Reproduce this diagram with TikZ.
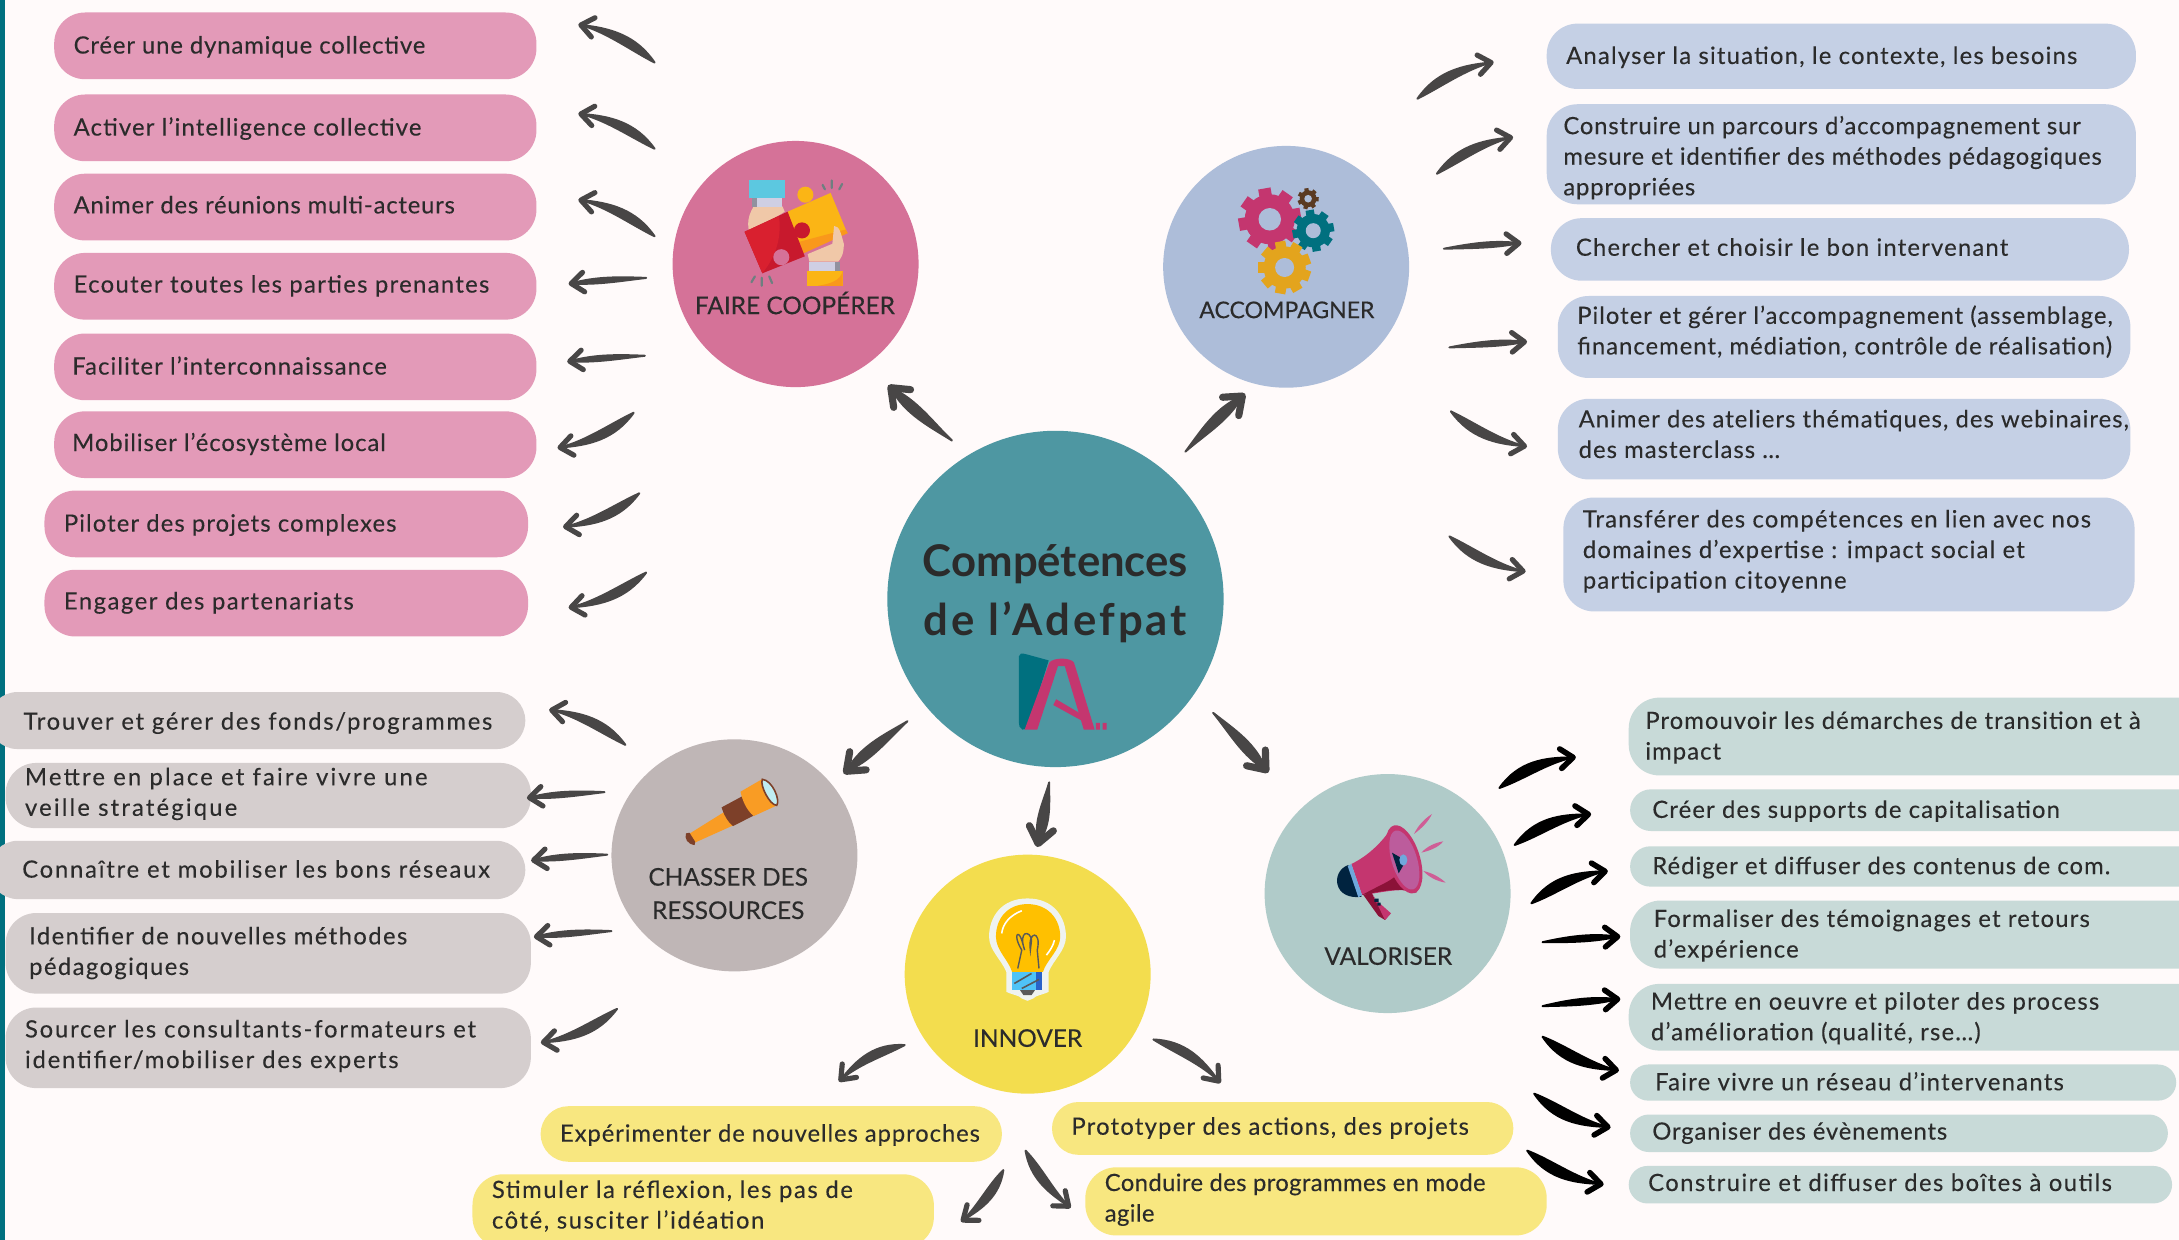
\documentclass[tikz,border=0pt]{standalone}
\usepackage{fontspec}
\setmainfont{Lato}
\usetikzlibrary{calc,shapes.geometric}
\definecolor{bgc}{HTML}{FFFAFA}
\definecolor{stripc}{HTML}{00707F}
\definecolor{centerc}{HTML}{4E97A2}
\definecolor{fairec}{HTML}{D57298}
\definecolor{accc}{HTML}{ADBDD9}
\definecolor{chassc}{HTML}{BFB6B6}
\definecolor{innc}{HTML}{F3DD4E}
\definecolor{valc}{HTML}{B0CBC9}
\definecolor{pinkb}{HTML}{E39AB8}
\definecolor{blueb}{HTML}{C5D0E5}
\definecolor{greyb}{HTML}{D5CECE}
\definecolor{yelb}{HTML}{F8E780}
\definecolor{valb}{HTML}{C8DAD8}
\definecolor{inkc}{HTML}{2B2B2B}
\definecolor{arrc}{HTML}{484646}
\definecolor{magc}{HTML}{C4366F}
\definecolor{magd}{HTML}{8B1238}
\definecolor{magl}{HTML}{BC5C9C}
\definecolor{rayc}{HTML}{CF5E96}
\definecolor{tealc}{HTML}{00707F}
\definecolor{goldc}{HTML}{E3A41D}
\definecolor{brownc}{HTML}{5A3A22}
\definecolor{skinc}{HTML}{F0C8A8}
\definecolor{cuffc}{HTML}{CFCFE3}
\definecolor{orgc}{HTML}{F99C24}
\definecolor{navyc}{HTML}{00233F}
\definecolor{pzred}{HTML}{C8192D}
\definecolor{pzredl}{HTML}{D9202F}
\definecolor{pzyel}{HTML}{FBB515}
\definecolor{pzorg}{HTML}{F9981B}
\definecolor{pzcyan}{HTML}{5CC8E0}
\definecolor{pztick}{HTML}{6E7F80}
\definecolor{bulby}{HTML}{FFC000}
\definecolor{bulbw}{HTML}{EFF3F0}
\definecolor{bulbb}{HTML}{4FC3F7}
\definecolor{bulbd}{HTML}{2962C8}
\definecolor{lensc}{HTML}{BFEDF2}
\definecolor{tubeb}{HTML}{7D4029}
\definecolor{bandc}{HTML}{6FA8DC}
\tikzset{
  disc/.style={ellipse,inner sep=0pt,draw=none},
  pillbase/.style={rectangle,inner sep=0pt,text=inkc,text height=0pt,text depth=0pt,font=\fontsize{12}{15.4}\selectfont},
  pinkpill/.style={pillbase,fill=pinkb},
  bluepill/.style={pillbase,fill=blueb},
  greypill/.style={pillbase,fill=greyb},
  yelpill/.style={pillbase,fill=yelb},
  valpill/.style={pillbase,fill=valb},
  headlabel/.style={inner sep=0pt,text=inkc,font=\fontsize{12.3}{15}\selectfont\addfontfeatures{FakeBold=0.2}},
  titlelabel/.style={inner sep=0pt,text=inkc,font=\fontsize{22}{28}\bfseries\selectfont},
}
\newcommand{\tune}[2]{\def\pls{#1}\def\pdy{#2}}
% name, style, x1,y1,x2,y2, inset, text   (after \tune{letterspace}{dy})
\newcommand{\pill}[8]{%
  \pgfmathsetmacro\pw{(#5-#3)*0.7}%
  \pgfmathsetmacro\ph{(#6-#4)*0.7}%
  \pgfmathsetmacro\pr{min(\ph/2,15.5)}%
  \pgfmathsetmacro\pin{#7*0.7}%
  \pgfmathsetmacro\prs{-2.4-\pdy*0.7}%
  \pgfmathsetmacro\plsb{\pls+0.6}%
  \node[#2,rounded corners=\pr pt,minimum width=\pw pt,minimum height=\ph pt] (#1) at ({(#3+#5)/2},{(#4+#6)/2})
    {\addfontfeatures{LetterSpace=\plsb,FakeBold=0.2}\hbox to \pw pt{\hspace*{\pin pt}\raisebox{\prs pt}{\begin{tabular}[c]{@{}l@{}}#8\end{tabular}}\hss}};%
}
% name, colour, x1,y1,x2,y2, {bend}{tail w}{head w}{barb length}{barb width}
\newcommand{\brush}[7]{%
  \coordinate (#1s) at (#3,#4);
  \coordinate (#1e) at (#5,#6);
  \brushdo{#1}{#2}#7%
}
\newcommand{\brushdo}[7]{%
  \coordinate (#1m) at ($(#1s)!0.5!(#1e)$);
  \coordinate (#1c) at ($(#1m)!#3!90:(#1e)$);
  \coordinate (#1a) at ($(#1s)!0.667!(#1c)$);
  \coordinate (#1b) at ($(#1e)!0.667!(#1c)$);
  \fill[#2,draw=#2,line width=1pt,line join=round]
    (#1s) .. controls ($(#1a)!#4!90:(#1e)$) and ($(#1b)!#5!-90:(#1s)$) .. (#1e)
    .. controls ($(#1b)!#5!90:(#1s)$) and ($(#1a)!#4!-90:(#1e)$) .. (#1s) -- cycle;
  \draw[#2,line width=#7,line cap=round,line join=round]
    ($(#1e)!#6!38:(#1b)$) -- (#1e) -- ($(#1e)!#6!-38:(#1b)$);
}
% x, y, r, teeth, colour, hole colour
\newcommand{\gear}[6]{%
  \fill[#5] (#1,#2) circle[radius=#3*0.8];
  \foreach \ang in {1,...,#4}{
    \fill[#5,rotate around={\ang*360/#4+10:(#1,#2)}]
      ({#1-#3*0.2},{#2}) rectangle ({#1+#3*0.2},{#2-#3});
  }
  \fill[#6] (#1,#2) circle[radius=#3*0.36];
}
\newcommand{\arr}[7]{\brush{#1}{#2}{#3}{#4}{#5}{#6}{{#7}{4pt}{1.4pt}{8pt}{2.6pt}}}
\newcommand{\blk}[7]{\brush{#1}{black}{#3}{#4}{#5}{#6}{{#7}{4.8pt}{1.6pt}{8pt}{2.8pt}}}
\newcommand{\flatarr}[6]{\brush{#1}{#2}{#3}{#4}{#5}{#6}{{-0.7pt}{1pt}{2.2pt}{8pt}{2.6pt}}}
\newcommand{\bigarr}[7]{\brush{#1}{#2}{#3}{#4}{#5}{#6}{{#7}{1.4pt}{4.8pt}{10pt}{3.6pt}}}
\begin{document}
\begin{tikzpicture}[x=0.7pt,y=-0.7pt]
\useasboundingbox (0,0) rectangle (1568,892.3);
\clip (0,0) rectangle (1568,892.3);
\fill[bgc] (0,0) rectangle (1568,892.3);
\fill[stripc] (0,0) rectangle (3.5,892.3);

% main discs
\node[disc,fill=centerc,minimum width=169.4pt,minimum height=169.4pt] (centre) at (759.5,431) {};
\node[disc,fill=fairec,minimum width=123.9pt,minimum height=124pt] (faire) at (572.5,190) {};
\node[disc,fill=accc,minimum width=123.9pt,minimum height=121.8pt] (acc) at (925.5,192) {};
\node[disc,fill=chassc,minimum width=123.9pt,minimum height=116.9pt] (chass) at (528.5,615.5) {};
\node[disc,fill=innc,minimum width=123.9pt,minimum height=120.4pt] (inn) at (739.5,701) {};
\node[disc,fill=valc,minimum width=123.9pt,minimum height=120.4pt] (val) at (998.5,643) {};

% disc labels
\node[titlelabel] (t1) at (759.5,406) {Compétences};
\node[titlelabel] (t2) at (759.5,448) {\addfontfeatures{LetterSpace=7}de l’Adefpat};
\node[headlabel] (lf) at (572,218) {FAIRE COOPÉRER};
\node[headlabel,font=\fontsize{11.6}{15}\selectfont\addfontfeatures{FakeBold=0.2}] (la) at (926,223) {ACCOMPAGNER};
\node[headlabel] (lc1) at (524,631) {CHASSER DES};
\node[headlabel] (lc2) at (524,655) {RESSOURCES};
\node[headlabel] (li) at (739.5,747) {INNOVER};
\node[headlabel] (lv) at (999,688) {VALORISER};

% pink
\tune{3.1}{2}\pill{p1}{pinkpill}{39}{9}{386}{57}{14}{Créer une dynamique collective}
\tune{4.2}{2}\pill{p2}{pinkpill}{39}{68}{386}{116}{14}{Activer l’intelligence collective}
\tune{2.7}{1}\pill{p3}{pinkpill}{39}{125}{386}{173}{14}{Animer des réunions multi-acteurs}
\tune{5}{1}\pill{p4}{pinkpill}{39}{182}{386}{230}{14}{Ecouter toutes les parties prenantes}
\tune{4}{2}\pill{p5}{pinkpill}{39}{240}{386}{288}{13}{Faciliter l’interconnaissance}
\tune{3.3}{1}\pill{p6}{pinkpill}{39}{296}{386}{344}{13}{Mobiliser l’écosystème local}
\tune{4}{2}\pill{p7}{pinkpill}{32}{353}{380}{401}{14}{Piloter des projets complexes}
\tune{5.8}{1}\pill{p8}{pinkpill}{32}{410}{380}{458}{14}{Engager des partenariats}
% blue
\tune{4.5}{2}\pill{b1}{bluepill}{1113}{17}{1537}{64}{14}{Analyser la situation, le contexte, les besoins}
\tune{2.9}{4}\pill{b2}{bluepill}{1113}{75}{1537}{147}{12}{Construire un parcours d’accompagnement sur\\mesure et identifier des méthodes pédagogiques\\appropriées}
\tune{4.4}{1}\pill{b3}{bluepill}{1116}{157}{1532}{202}{18}{Chercher et choisir le bon intervenant}
\tune{3.6}{-2}\pill{b4}{bluepill}{1121}{213}{1533}{272}{14}{Piloter et gérer l’accompagnement (assemblage,\\financement, médiation, contrôle de réalisation)}
\tune{3.8}{-1}\pill{b5}{bluepill}{1121}{287}{1533}{345}{15}{Animer des ateliers thématiques, des webinaires,\\des masterclass …}
\tune{4.5}{-1}\pill{b6}{bluepill}{1125}{358}{1536}{440}{14}{Transférer des compétences en lien avec nos\\domaines d’expertise : impact social et\\participation citoyenne}
% grey
\tune{6.6}{3}\pill{g1}{greypill}{-8}{498}{378}{539}{25}{Trouver et gérer des fonds/programmes}
\tune{8.5}{0}\pill{g2}{greypill}{4}{549}{382}{596}{14}{Mettre en place et faire vivre une\\veille stratégique}
\tune{6.9}{2}\pill{g3}{greypill}{-8}{605}{378}{647}{24}{Connaître et mobiliser les bons réseaux}
\tune{5.3}{1}\pill{g4}{greypill}{4}{657}{382}{715}{17}{Identifier de nouvelles méthodes\\pédagogiques}
\tune{7}{0}\pill{g5}{greypill}{4}{725}{382}{783}{14}{Sourcer les consultants-formateurs et\\identifier/mobiliser des experts}
% yellow
\tune{3.2}{2}\pill{y1}{yelpill}{389}{796}{721}{836}{14}{Expérimenter de nouvelles approches}
\tune{6}{-2}\pill{y2}{yelpill}{340}{845}{672}{898}{14}{Stimuler la réflexion, les pas de\\côté, susciter l’idéation}
\tune{4.5}{1}\pill{y3}{yelpill}{757}{793}{1089}{831}{14}{Prototyper des actions, des projets}
\tune{1}{0}\pill{y4}{yelpill}{781}{840}{1113}{889}{14}{Conduire des programmes en mode\\agile}
% valoriser
\tune{3.8}{2}\pill{v1}{valpill}{1172}{502}{1600}{558}{12}{Promouvoir les démarches de transition et à\\impact}
\tune{4.2}{2}\pill{v2}{valpill}{1173}{568}{1600}{598}{16}{Créer des supports de capitalisation}
\tune{3.8}{2}\pill{v3}{valpill}{1173}{609}{1600}{638}{16}{Rédiger et diffuser des contenus de com.}
\tune{4.4}{2}\pill{v4}{valpill}{1173}{648}{1600}{697}{17}{Formaliser des témoignages et retours\\d’expérience}
\tune{4.5}{2}\pill{v5}{valpill}{1172}{708}{1600}{756}{16}{Mettre en oeuvre et piloter des process\\d’amélioration (qualité, rse…)}
\tune{4.7}{2}\pill{v6}{valpill}{1173}{766}{1566}{792}{18}{Faire vivre un réseau d’intervenants}
\tune{2.9}{1}\pill{v7}{valpill}{1173}{802}{1560}{829}{16}{Organiser des évènements}
\tune{5.4}{1}\pill{v8}{valpill}{1172}{839}{1563}{866}{14}{Construire et diffuser des boîtes à outils}

% connectors
\arr{a1}{arrc}{471}{45}{418}{18}{-6pt}
\arr{a2}{arrc}{471}{107}{418}{82}{-6pt}
\arr{a3}{arrc}{471}{170}{418}{144}{-6pt}
\flatarr{a4}{arrc}{465}{200}{411}{204}
\flatarr{a5}{arrc}{464}{256}{410}{260}
\arr{a6}{arrc}{456}{297}{403}{322}{6pt}
\arr{a7}{arrc}{460}{355}{407}{379}{6pt}
\arr{a8}{arrc}{465}{412}{411}{437}{6pt}

\arr{r1}{arrc}{1020}{71}{1073}{45}{6pt}
\arr{r2}{arrc}{1034}{125}{1087}{99}{6pt}
\brush{r3}{arrc}{1039}{179}{1093}{175}{{0.7pt}{1pt}{2.2pt}{8pt}{2.6pt}}
\brush{r4}{arrc}{1043}{250}{1097}{246}{{0.7pt}{1pt}{2.2pt}{8pt}{2.6pt}}
\arr{r5}{arrc}{1044}{296}{1097}{321}{-6pt}
\arr{r6}{arrc}{1043}{386}{1096}{411}{-6pt}

\bigarr{c1}{arrc}{685}{317}{641}{279}{1pt}
\bigarr{c2}{arrc}{853}{325}{894}{285}{1pt}
\bigarr{c3}{arrc}{653}{519}{609}{555}{-1pt}
\bigarr{c4}{arrc}{873}{513}{911}{554}{1pt}
\bigarr{c5}{arrc}{755}{563}{747}{607}{0.5pt}

\arr{g1a}{arrc}{450}{536}{397}{511}{-6pt}
\flatarr{g2a}{arrc}{435}{570}{381}{574}
\flatarr{g3a}{arrc}{437}{615}{384}{619}
\flatarr{g4a}{arrc}{440}{670}{386}{674}
\arr{g5a}{arrc}{444}{726}{391}{750}{6pt}

\arr{i1}{arrc}{651}{752}{605}{777}{-6pt}
\arr{i2}{arrc}{830}{748}{877}{778}{6pt}
\arr{i3}{arrc}{722}{842}{693}{878}{4pt}
\arr{i4}{arrc}{738}{828}{769}{868}{-4pt}

\blk{w1}{black}{1079}{567}{1132}{545}{6pt}
\blk{w2}{black}{1090}{608}{1143}{586}{6pt}
\blk{w3}{black}{1102}{650}{1155}{627}{6pt}
\brush{w4}{black}{1110}{678}{1164}{674}{{0.7pt}{1.4pt}{2.4pt}{8pt}{2.8pt}}
\brush{w5}{black}{1110}{724}{1164}{719}{{0.7pt}{1.4pt}{2.4pt}{8pt}{2.8pt}}
\blk{w6}{black}{1110}{746}{1163}{770}{-6pt}
\blk{w7}{black}{1104}{787}{1157}{811}{-6pt}
\blk{w8}{black}{1099}{828}{1152}{852}{-6pt}

% gears (accompagner)
\gear{913.7}{157.8}{22.5}{8}{magc}{accc}
\gear{945}{166}{15}{8}{tealc}{accc}
\gear{924.4}{192.5}{19}{9}{goldc}{accc}
\gear{941.3}{143}{7.6}{7}{brownc}{accc}

% puzzle (faire cooperer)
\begin{scope}[shift={(431.7,72)},x=0.2891pt,y=-0.2249pt]
  \fill[skinc] (268,238) .. controls (255,265) and (255,290) .. (268,318) -- (278,318) -- (278,285) -- (322,250) -- (318,238) -- cycle;
  \fill[cuffc] (265,220) rectangle (318,240);
  \fill[cuffc!70!black] (265,220) rectangle (274,240);
  \fill[pzcyan] (260,179) rectangle (322,220);
  \fill[pzyel] (327,250) -- (402,208) -- (430,295) -- (350,345) -- cycle;
  \fill[pzyel] (358,212) ellipse[x radius=14,y radius=18];
  \fill[pzorg] (346,318) -- (428,290) -- (432,298) -- (352,345) -- cycle;
  \fill[pzred] (252,295) -- (327,250) -- (357,350) -- (283,388) -- cycle;
  \fill[pzredl] (252,295) -- (312,260) .. controls (318,320) and (300,360) .. (283,388) -- cycle;
  \fill[pzred] (352,292) ellipse[x radius=14,y radius=18];
  \fill[fairec] (316,352) ellipse[x radius=14,y radius=18];
  \fill[skinc] (362,345) -- (405,322) -- (408,282) .. controls (418,282) and (420,300) .. (425,322) .. controls (425,345) and (420,355) .. (415,362) -- (365,362) -- cycle;
  \fill[cuffc] (365,362) rectangle (418,382);
  \fill[cuffc!70!black] (409,362) rectangle (418,382);
  \fill[pzyel] (361,382) rectangle (423,416);
  \fill[pzorg] (423,382) .. controls (420,405) and (400,412) .. (380,416) -- (423,416) -- cycle;
  \draw[pztick,line width=1.1pt,line cap=round] (388,190) -- (392,200) (404,180) -- (404,197) (422,188) -- (417,200) (270,395) -- (264,408) (282,398) -- (282,416) (295,395) -- (300,410);
\end{scope}

% logo
\begin{scope}[shift={(431.7,72)},x=0.2891pt,y=-0.2249pt]
  \fill[tealc] (730,1246) .. controls (730,1240) and (735,1238) .. (742,1241) -- (782,1255) -- (745,1408) -- (736,1410) .. controls (731,1408) and (730,1400) .. (730,1395) -- cycle;
  \fill[magc] (740,1410) -- (783,1260) .. controls (790,1248) and (820,1248) .. (826,1260) -- (862,1410) -- (843,1410) -- (810,1268) -- (798,1268) -- (762,1410) -- cycle;
  \fill[magc] (795,1342) -- (845,1380) -- (848,1396) -- (790,1355) -- cycle;
  \fill[magc] (864,1395) rectangle (871,1410) (876,1395) rectangle (883,1410);
\end{scope}

% telescope
\begin{scope}[shift={(431.7,518.1)},x=0.2891pt,y=-0.168pt]
  \fill[orgc] (155,342) -- (222,270) -- (240,310) -- (165,368) -- cycle;
  \fill[tubeb] (150,340) .. controls (147,355) and (152,372) .. (165,375) -- (166,365) -- (156,338) -- cycle;
  \fill[tubeb] (212,262) -- (252,225) -- (272,283) -- (232,318) .. controls (222,305) and (215,280) .. (212,262) -- cycle;
  \fill[orgc] (245,215) -- (282,178) -- (310,255) -- (268,288) .. controls (255,270) and (248,240) .. (245,215) -- cycle;
  \fill[lensc,draw=tubeb,line width=.8pt] (283,178) .. controls (300,180) and (315,240) .. (308,256) .. controls (296,256) and (278,195) .. (283,178) -- cycle;
\end{scope}

% bulb
\begin{scope}[shift={(431.7,518.1)},x=0.2891pt,y=-0.168pt]
  \fill[bulbw] (745,535) .. controls (700,535) and (678,590) .. (678,650) .. controls (678,690) and (700,720) .. (708,755) -- (708,815) .. controls (720,825) and (730,825) .. (735,835) -- (745,842) -- (755,835) .. controls (760,825) and (770,825) .. (782,815) -- (782,755) .. controls (790,720) and (812,690) .. (812,650) .. controls (812,590) and (790,535) .. (745,535) -- cycle;
  \fill[bulby] (745,552) .. controls (710,552) and (690,595) .. (690,650) .. controls (690,690) and (712,720) .. (718,755) -- (772,755) .. controls (778,720) and (802,690) .. (802,650) .. controls (802,595) and (780,552) .. (745,552) -- cycle;
  \fill[bulbb] (718,755) rectangle (770,810);
  \fill[bulbd] (760,755) rectangle (770,810);
  \fill[gray!70!black] (732,810) -- (758,810) -- (752,825) -- (738,825) -- cycle;
  \draw[gray!70!black,line width=.8pt] (722,790) -- (752,760) (735,805) -- (765,778);
  \draw[gray!70!black,line width=.7pt] (728,745) -- (735,690) .. controls (718,640) and (730,630) .. (735,660) -- (740,690) .. controls (728,630) and (750,630) .. (752,660) -- (750,690) .. controls (745,630) and (770,630) .. (762,690) -- (765,745);
  \draw[white,line width=.8pt] (700,640) .. controls (702,610) and (715,585) .. (735,572);
  \draw[white,line width=.8pt] (778,705) .. controls (785,690) and (790,675) .. (792,660);
\end{scope}

% megaphone
\begin{scope}[shift={(899.5,532.5)},x=0.1679pt,y=-0.1679pt]
  \fill[navyc] (295,375) .. controls (265,385) and (258,415) .. (262,432) .. controls (268,462) and (300,476) .. (335,470) -- cycle;
  \fill[magc] (304,372) .. controls (350,350) and (395,310) .. (425,262) -- (500,458) .. controls (450,440) and (390,460) .. (336,465) -- cycle;
  \fill[magd] (336,465) .. controls (390,435) and (420,425) .. (440,405) -- (498,458) .. controls (450,440) and (390,455) .. (336,465) -- cycle;
  \fill[magd] (340,465) -- (365,458) -- (375,480) -- (420,522) -- (405,540) -- (385,528) -- cycle;
  \fill[magc] (365,458) -- (378,480) -- (423,520) -- (405,540) -- cycle;
  \fill[bandc] (293,378) -- (304,372) -- (336,465) -- (325,472) -- cycle;
  \fill[magc,rotate around={17:(462,358)}] (462,358) ellipse[x radius=48,y radius=106];
  \fill[magl,rotate around={17:(463,360)}] (463,360) ellipse[x radius=38,y radius=92];
  \fill[navyc] (426,338) -- (468,362) -- (446,400) -- cycle;
  \fill[bandc] (460,360) ellipse[x radius=12,y radius=17];
  \fill[rayc] (492,282) .. controls (505,255) and (525,235) .. (546,222) .. controls (535,245) and (515,265) .. (492,282) -- cycle;
  \fill[rayc] (514,338) .. controls (530,320) and (555,308) .. (580,304) .. controls (565,322) and (540,332) .. (514,338) -- cycle;
  \fill[rayc] (520,393) .. controls (545,398) and (570,412) .. (587,428) .. controls (560,424) and (535,410) .. (520,393) -- cycle;
  \fill[navyc] (373,476) rectangle (386,486) (382,488) rectangle (392,497);
\end{scope}
\end{tikzpicture}
\end{document}
